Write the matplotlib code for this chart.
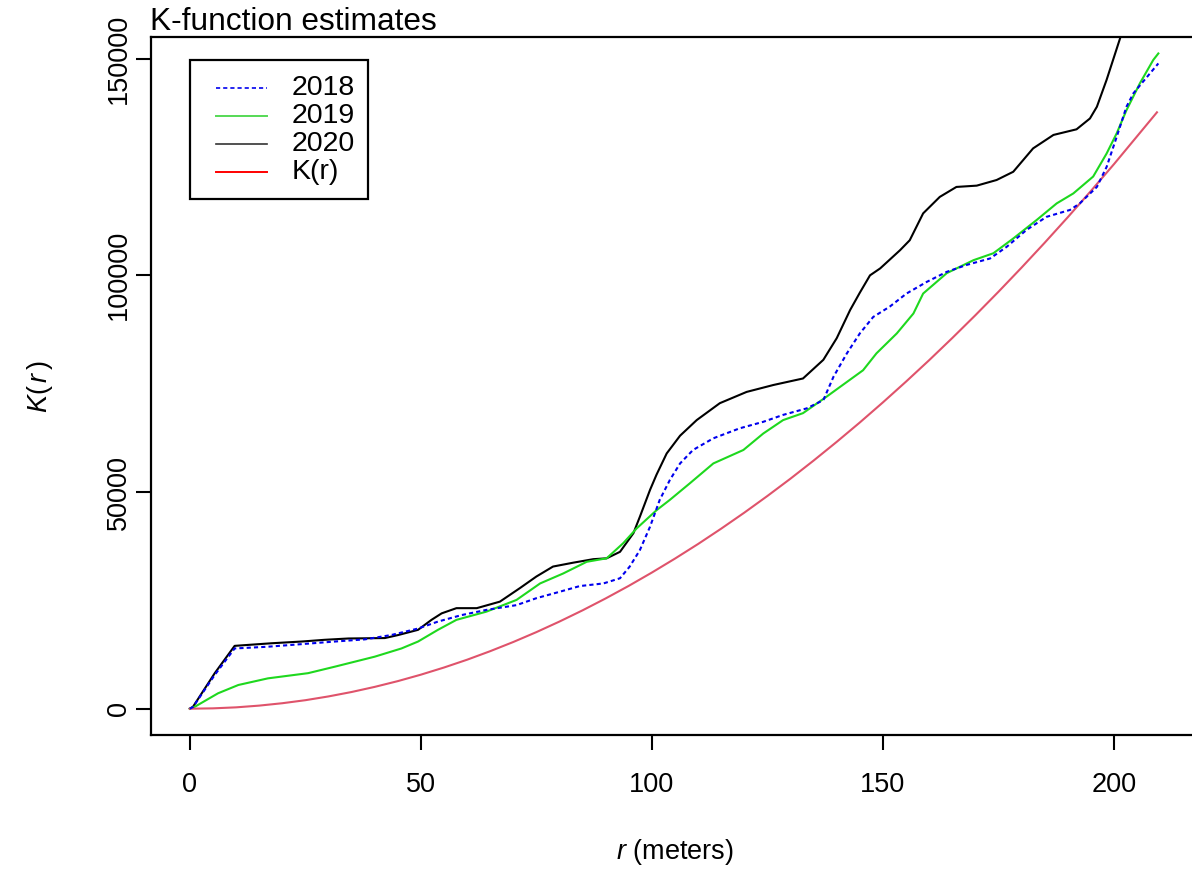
import matplotlib
matplotlib.use("Agg")
import matplotlib.pyplot as plt
from matplotlib.lines import Line2D
from matplotlib.patches import Rectangle

plt.rcParams['font.family'] = ['Liberation Sans', 'DejaVu Sans']
plt.rcParams['mathtext.fontset'] = 'custom'
plt.rcParams['mathtext.it'] = 'Liberation Sans:italic'
plt.rcParams['mathtext.rm'] = 'Liberation Sans'

# ---- data ----
r_2018 = [0, 0.7, 5.4, 9.7, 16.9, 24.2, 31.4, 37.9, 43.6, 49.4, 53.7, 58.8, 64.2, 70.7, 75, 80.1,
          84.4, 89.5, 93.1, 95.2, 97.4, 99.6, 101.7, 103.9, 106.1, 108.9, 113.3, 119, 124.1, 128.4,
          133.5, 137.1, 139.3, 142.2, 145, 147.9, 151.5, 155.1, 159.5, 163.8, 168.1, 173.2, 176.8,
          181.1, 185.4, 190.5, 192.6, 196.3, 198.4, 200.6, 202.7, 204.2, 206.3, 209.6]
k_2018 = [0, 400, 7800, 13900, 14300, 14900, 15500, 16000, 17000, 18500, 20100, 21600, 22800, 23900,
          25500, 27000, 28300, 28900, 30100, 32800, 36600, 42000, 48200, 52800, 56600, 59700, 62400,
          64700, 66200, 67800, 69300, 71200, 76600, 82000, 86600, 90400, 92800, 95800, 98500, 100800,
          102400, 103900, 106600, 110500, 113500, 115100, 116600, 120400, 125000, 132000, 138900,
          142000, 144700, 148900]

r_2019 = [0, 1.1, 6.1, 10.5, 16.9, 25.6, 31.4, 40, 45.8, 49.4, 53.7, 57.7, 64.2, 70.7, 75.8, 80.8,
          85.9, 90.2, 93.8, 96.7, 101, 103.9, 108.2, 113.3, 119.8, 124.1, 128.4, 132.7, 137.8, 142.2,
          145.7, 148.6, 153, 156.6, 158.7, 163.8, 169.6, 173.9, 178.2, 183.3, 187.6, 191.2, 195.5,
          198.4, 200.6, 202.7, 205.6, 208.5, 209.6]
k_2019 = [0, 460, 3550, 5470, 7000, 8200, 9700, 12000, 13900, 15500, 18200, 20500, 22400, 25100,
          28900, 31200, 33900, 34700, 38200, 41600, 45800, 48200, 52000, 56600, 59700, 63500, 66600,
          68200, 72000, 75400, 78100, 82000, 86600, 91200, 95800, 100500, 103500, 105100, 108500,
          112800, 116600, 118900, 122800, 128100, 132800, 138100, 144300, 149700, 151200]

r_2020 = [0, 0.7, 5.4, 9.7, 17.7, 24.2, 29.2, 34.3, 42.2, 45.1, 49.4, 52.3, 54.5, 57.7, 62.1, 67.1,
          71.4, 75, 78.6, 83, 87.3, 90.2, 93.1, 96, 97.4, 99.6, 101, 103.2, 106.1, 109.7, 114.7, 120.5,
          126.3, 132.7, 137.1, 140, 142.9, 145, 147.2, 149.4, 153.7, 155.8, 158.7, 162.3, 165.9,
          170.3, 174.6, 178.2, 182.5, 186.9, 191.9, 194.8, 196.3, 198.4, 201.2, 205, 209.5]
k_2020 = [0, 460, 8200, 14500, 15100, 15500, 15900, 16200, 16300, 17000, 18200, 20500, 22000, 23200,
          23200, 24700, 27800, 30500, 32800, 33700, 34500, 34700, 36200, 40500, 44300, 50500, 54000,
          58900, 63000, 66600, 70500, 73100, 74700, 76200, 80500, 85500, 92000, 96000, 100000,
          101600, 105800, 108100, 114300, 118100, 120400, 120700, 122000, 123900, 129300, 132400,
          133700, 136200, 138900, 145100, 154300, 167000, 180000]

r_theo = [0, 5, 10, 15, 20, 25, 30, 35, 40, 45, 50, 55, 60, 65, 70, 75, 80, 85, 90, 95, 100, 105,
          110, 115, 120, 125, 130, 135, 140, 145, 150, 155, 160, 165, 170, 175, 180, 185, 190, 195,
          200, 209.3]
k_theo = [0, 80, 310, 710, 1260, 1960, 2830, 3850, 5030, 6360, 7850, 9500, 11300, 13270, 15390,
          17670, 20110, 22700, 25450, 28350, 31420, 34640, 38010, 41550, 45240, 49090, 53090, 57260,
          61580, 66050, 70690, 75480, 80420, 85530, 90790, 96210, 101790, 107520, 113410, 119460,
          125660, 137620]

labels = ["2018", "2019", "2020", "K(r)"]
x_ticks = [0, 50, 100, 150, 200]
y_ticks = [0, 50000, 100000, 150000]

# ---- figure ----
W, H = 1192, 872
fig = plt.figure(figsize=(W / 100, H / 100), dpi=100)
left_px, right_px, top_px, bot_px = 151, 1199, 37, 735
ax = fig.add_axes([left_px / W, 1 - bot_px / H, (right_px - left_px) / W, (bot_px - top_px) / H])

lw = 1.5
ax.plot(r_2020, k_2020, color='black', lw=lw, zorder=2)
ax.plot(r_2019, k_2019, color='#1ED81E', lw=lw, zorder=3)
ax.plot(r_theo, k_theo, color='#DF536B', lw=lw, zorder=4)
ax.plot(r_2018, k_2018, color='#0000EE', lw=lw, ls=(0, (2, 1.5)), zorder=5)

ax.set_xlim(-8.4, 218.4)
ax.set_ylim(-6070, 155000)
ax.set_xticks(x_ticks)
ax.set_yticks(y_ticks)
ax.set_xticklabels([str(v) for v in x_ticks])
ax.set_yticklabels([str(v) for v in y_ticks], rotation=90, va='center')
ax.tick_params(axis='both', direction='out', length=11, width=1.5, labelsize=19.5, color='black')
ax.tick_params(axis='x', pad=16)
ax.tick_params(axis='y', pad=2.5)
for s in ax.spines.values():
    s.set_linewidth(1.6)
    s.set_color('black')

ax.set_xlabel(r"$r$ (meters)", fontsize=19.5)
ax.xaxis.set_label_coords(0.5, (bot_px - 852) / (bot_px - top_px))
ax.xaxis.label.set_va('center')
ax.set_ylabel(r"$K(\,r\,)$", fontsize=19.5)
ax.yaxis.set_label_coords((40 - left_px) / (right_px - left_px), 0.5)
ax.yaxis.label.set_va('center')
ax.yaxis.label.set_ha('center')

fig.text(150 / W, 1 - 30 / H, "K-function estimates", fontsize=22.8, ha='left', va='baseline')

# ---- legend box (drawn in figure pixel space) ----
def fx(px):
    return px / W

def fy(py):
    return 1 - py / H

fig.add_artist(Rectangle((fx(190), fy(199)), (368 - 190) / W, (199 - 60) / H,
                         transform=fig.transFigure, facecolor='white', edgecolor='black',
                         lw=1.6, zorder=10))
leg_styles = [
    dict(color='#0000EE', lw=1.2, ls=(0, (2.5, 1.8))),
    dict(color='#55D955', lw=1.4, ls='-'),
    dict(color='#333333', lw=1.2, ls='-'),
    dict(color='#FF0000', lw=1.4, ls='-'),
]
row_y = [88, 116, 144, 172]
for lab, st, yy in zip(labels, leg_styles, row_y):
    fig.add_artist(Line2D([fx(216), fx(267)], [fy(yy), fy(yy)], transform=fig.transFigure,
                          zorder=11, **st))
    fig.text(fx(292), fy(yy), lab, fontsize=20.5, ha='left', va='center', zorder=11)

fig.savefig("out.png", dpi=100)
